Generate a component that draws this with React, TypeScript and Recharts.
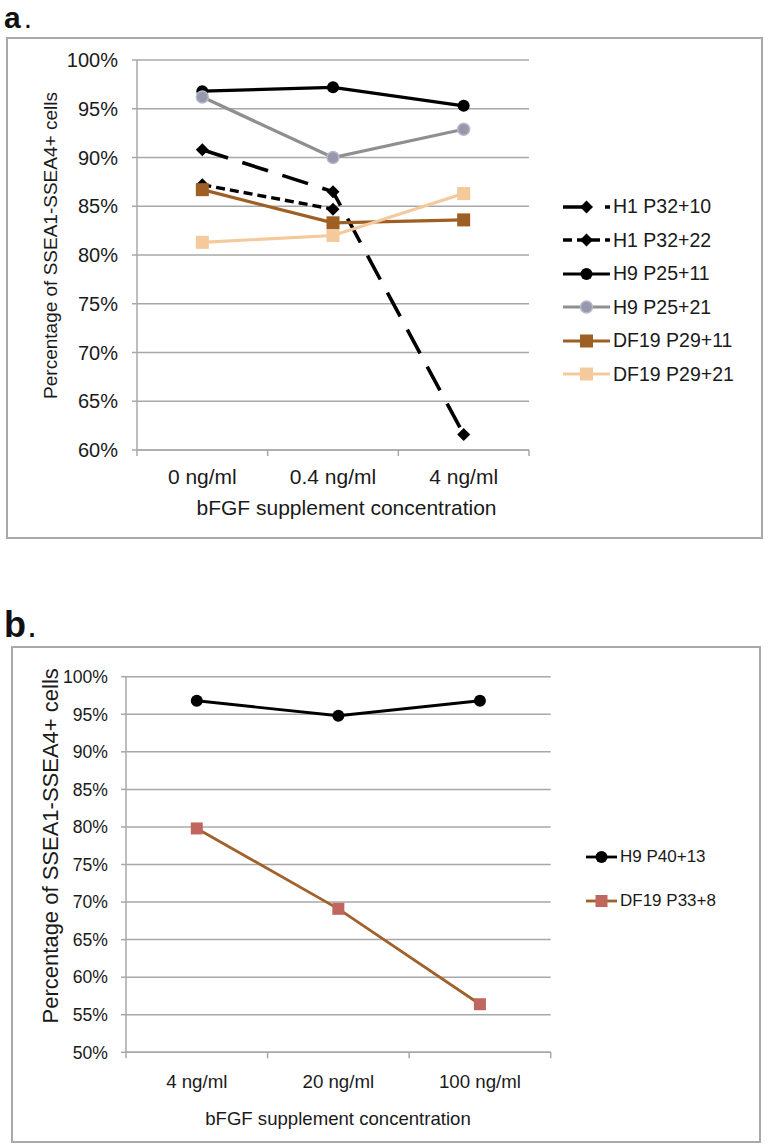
import React from 'react';
import { LineChart, Line, XAxis, YAxis, CartesianGrid, Legend } from 'recharts';

const FONT = '"Liberation Sans", Arial, Helvetica, sans-serif';
const TEXT = '#1a1a1a';
const GRID = '#a8a8a8';

// ---------- Panel a data ----------
const categoriesA = ['0 ng/ml', '0.4 ng/ml', '4 ng/ml'];
const seriesNamesA = ['H1 P32+10', 'H1 P32+22', 'H9 P25+11', 'H9 P25+21', 'DF19 P29+11', 'DF19 P29+21'];
const h1P32p10 = [90.8, 86.5, 61.6];
const h1P32p22 = [87.2, 84.7, null];
const h9P25p11 = [96.8, 97.2, 95.3];
const h9P25p21 = [96.2, 90.0, 92.9];
const df19P29p11 = [86.7, 83.3, 83.6];
const df19P29p21 = [81.3, 82.0, 86.3];
const yTicksA = [60, 65, 70, 75, 80, 85, 90, 95, 100];

// ---------- Panel b data ----------
const categoriesB = ['4 ng/ml', '20 ng/ml', '100 ng/ml'];
const seriesNamesB = ['H9 P40+13', 'DF19 P33+8'];
const h9P40p13 = [96.8, 94.8, 96.8];
const df19P33p8 = [79.8, 69.1, 56.4];
const yTicksB = [50, 55, 60, 65, 70, 75, 80, 85, 90, 95, 100];

const axisTitle = 'bFGF supplement concentration';
const yTitle = 'Percentage of SSEA1-SSEA4+ cells';

type MarkerKind = 'diamond' | 'circle' | 'square';
interface SeriesStyle {
  color: string;
  width: number;
  dash?: string;
  marker: MarkerKind;
  fill: string;
  stroke?: string;
  size: number;
}

const stylesA: SeriesStyle[] = [
  { color: '#000000', width: 3.6, dash: '27 15', marker: 'diamond', fill: '#000000', size: 6.5 },
  { color: '#000000', width: 3.4, dash: '9 5', marker: 'diamond', fill: '#000000', size: 6.5 },
  { color: '#000000', width: 3.2, marker: 'circle', fill: '#000000', size: 6 },
  { color: '#8f8f8f', width: 3.2, marker: 'circle', fill: '#9898ad', stroke: '#b9b9cc', size: 6 },
  { color: '#9e5f24', width: 3.2, marker: 'square', fill: '#9e5f24', size: 6.5 },
  { color: '#f4c99c', width: 3.2, marker: 'square', fill: '#f4c99c', size: 6.5 },
];

const stylesB: SeriesStyle[] = [
  { color: '#000000', width: 2.8, marker: 'circle', fill: '#000000', size: 6 },
  { color: '#a0612a', width: 2.8, marker: 'square', fill: '#c1665e', size: 6 },
];

const valuesA = [h1P32p10, h1P32p22, h9P25p11, h9P25p21, df19P29p11, df19P29p21];
const valuesB = [h9P40p13, df19P33p8];

const buildRows = (cats: string[], values: (number | null)[][]) =>
  cats.map((c, i) => {
    const row: Record<string, any> = { pos: i + 0.5, category: c };
    values.forEach((vals, s) => {
      row['s' + s] = vals[i];
    });
    return row;
  });

const dataA = buildRows(categoriesA, valuesA);
const dataB = buildRows(categoriesB, valuesB);

const xTicksFor = (n: number) => Array.from({ length: 2 * n + 1 }, (_, k) => k / 2);

function drawMarker(st: SeriesStyle, cx: number, cy: number) {
  const s = st.size;
  if (st.marker === 'diamond') {
    return (
      <polygon
        points={`${cx},${cy - s} ${cx + s},${cy} ${cx},${cy + s} ${cx - s},${cy}`}
        fill={st.fill}
      />
    );
  }
  if (st.marker === 'square') {
    return <rect x={cx - s} y={cy - s} width={2 * s} height={2 * s} fill={st.fill} />;
  }
  return (
    <circle
      cx={cx}
      cy={cy}
      r={s}
      fill={st.fill}
      stroke={st.stroke || 'none'}
      strokeWidth={st.stroke ? 1.5 : 0}
    />
  );
}

const makeDot = (st: SeriesStyle) => (props: any) => {
  const { cx, cy, index, value } = props;
  if (cx == null || cy == null || value == null || Number.isNaN(cy)) return <g key={`d${index}`} />;
  return <g key={`d${index}`}>{drawMarker(st, cx, cy)}</g>;
};

const makeXTick = (cats: string[], fs: number, off: number) => (props: any) => {
  const { x, y, payload } = props;
  const v = payload?.value as number;
  if (Number.isInteger(v)) {
    return <line x1={x} x2={x} y1={y} y2={y + 6} stroke={GRID} strokeWidth={1.5} />;
  }
  return (
    <text x={x} y={y + off} dy="0.71em" textAnchor="middle" fontSize={fs} fontFamily={FONT} fill={TEXT}>
      {cats[Math.floor(v)]}
    </text>
  );
};

const makeLegend = (names: string[], styles: SeriesStyle[], iconW: number, rowH: number, fs: number) => () => (
  <div style={{ fontFamily: FONT }}>
    {names.map((n, i) => {
      const st = styles[i];
      return (
        <div key={n} style={{ display: 'flex', alignItems: 'center', height: rowH }}>
          <svg width={iconW} height={20} style={{ display: 'block', overflow: 'visible' }}>
            <line
              x1={0}
              x2={iconW}
              y1={10}
              y2={10}
              stroke={st.color}
              strokeWidth={st.width}
              strokeDasharray={st.dash}
            />
            {drawMarker(st, iconW / 2, 10)}
          </svg>
          <span style={{ marginLeft: 3, fontSize: fs, color: TEXT, whiteSpace: 'nowrap', lineHeight: 1 }}>{n}</span>
        </div>
      );
    })}
  </div>
);

const rotTitle = (text: string, x: number, y: number, fs: number) => ({
  content: () => (
    <text
      x={x}
      y={y}
      transform={`rotate(-90 ${x} ${y})`}
      textAnchor="middle"
      fontSize={fs}
      fontFamily={FONT}
      fill={TEXT}
    >
      {text}
    </text>
  ),
});

const flatTitle = (text: string, x: number, y: number, fs: number) => ({
  content: () => (
    <text x={x} y={y} textAnchor="middle" fontSize={fs} fontFamily={FONT} fill={TEXT}>
      {text}
    </text>
  ),
});

function PanelA() {
  return (
    <div style={{ position: 'absolute', left: 0, top: 0 }}>
      <LineChart width={768} height={540} data={dataA} margin={{ top: 60, right: 239, bottom: 0, left: 57 }}>
        <CartesianGrid vertical={false} stroke={GRID} strokeWidth={1.5} />
        <XAxis
          dataKey="pos"
          type="number"
          domain={[0, categoriesA.length]}
          ticks={xTicksFor(categoriesA.length)}
          interval={0}
          height={90}
          tickSize={0}
          tickMargin={0}
          tickLine={false}
          axisLine={{ stroke: GRID, strokeWidth: 1.5 }}
          tick={makeXTick(categoriesA, 21, 19.5)}
          label={flatTitle(axisTitle, 346.5, 515, 21)}
        />
        <YAxis
          type="number"
          domain={[60, 100]}
          ticks={yTicksA}
          interval={0}
          width={80}
          tickSize={5}
          tickMargin={14}
          tickFormatter={(v: number) => `${v}%`}
          tick={{ fontSize: 20, fill: TEXT, fontFamily: FONT }}
          tickLine={{ stroke: GRID, strokeWidth: 1.5 }}
          axisLine={{ stroke: GRID, strokeWidth: 1.5 }}
          label={rotTitle(yTitle, 56.5, 245.5, 19)}
        />
        {seriesNamesA.map((name, i) => (
          <Line
            key={name}
            name={name}
            type="linear"
            dataKey={'s' + i}
            stroke={stylesA[i].color}
            strokeWidth={stylesA[i].width}
            strokeDasharray={stylesA[i].dash}
            dot={makeDot(stylesA[i])}
            activeDot={false}
            connectNulls={false}
            isAnimationActive={false}
          />
        ))}
        <Legend
          layout="horizontal"
          align="center"
          verticalAlign="middle"
          wrapperStyle={{ left: 563, top: 190, width: 200, margin: 0 }}
          content={makeLegend(seriesNamesA, stylesA, 47, 33.5, 19.5)}
        />
      </LineChart>
    </div>
  );
}

function PanelB() {
  return (
    <div style={{ position: 'absolute', left: 0, top: 580 }}>
      <LineChart width={768} height={567} data={dataB} margin={{ top: 96.7, right: 217.3, bottom: 0, left: 46 }}>
        <CartesianGrid vertical={false} stroke={GRID} strokeWidth={1.5} />
        <XAxis
          dataKey="pos"
          type="number"
          domain={[0, categoriesB.length]}
          ticks={xTicksFor(categoriesB.length)}
          interval={0}
          height={94.7}
          tickSize={0}
          tickMargin={0}
          tickLine={false}
          axisLine={{ stroke: GRID, strokeWidth: 1.5 }}
          tick={makeXTick(categoriesB, 18.7, 22.7)}
          label={flatTitle(axisTitle, 338, 545, 18.6)}
        />
        <YAxis
          type="number"
          domain={[50, 100]}
          ticks={yTicksB}
          interval={0}
          width={80}
          tickSize={5}
          tickMargin={13}
          tickFormatter={(v: number) => `${v}%`}
          tick={{ fontSize: 17.6, fill: TEXT, fontFamily: FONT }}
          tickLine={{ stroke: GRID, strokeWidth: 1.5 }}
          axisLine={{ stroke: GRID, strokeWidth: 1.5 }}
          label={rotTitle(yTitle, 58, 265.8, 22)}
        />
        {seriesNamesB.map((name, i) => (
          <Line
            key={name}
            name={name}
            type="linear"
            dataKey={'s' + i}
            stroke={stylesB[i].color}
            strokeWidth={stylesB[i].width}
            dot={makeDot(stylesB[i])}
            activeDot={false}
            isAnimationActive={false}
          />
        ))}
        <Legend
          layout="horizontal"
          align="center"
          verticalAlign="middle"
          wrapperStyle={{ left: 586, top: 255.2, width: 170, margin: 0 }}
          content={makeLegend(seriesNamesB, stylesB, 31, 43.6, 17)}
        />
      </LineChart>
    </div>
  );
}

export default function App() {
  const box = (left: number, top: number, w: number, h: number) => (
    <div
      style={{
        position: 'absolute',
        left,
        top,
        width: w,
        height: h,
        border: '2px solid #a9a9a9',
        boxSizing: 'border-box',
      }}
    />
  );
  return (
    <div style={{ position: 'absolute', left: 0, top: 0, width: 768, height: 1147, background: '#ffffff', overflow: 'hidden' }}>
      {box(6, 37, 757, 502)}
      {box(11, 646, 750, 497)}
      <svg width={768} height={1147} style={{ position: 'absolute', left: 0, top: 0 }}>
        <text x={4} y={27.5} fontSize={30} fontWeight="bold" fontFamily={FONT} fill="#111">
          a<tspan fontWeight="normal" dx={3}>.</tspan>
        </text>
        <text x={4} y={637} fontSize={36} fontWeight="bold" fontFamily={FONT} fill="#111">
          b<tspan fontWeight="normal" dx={1}>.</tspan>
        </text>
      </svg>
      <PanelA />
      <PanelB />
    </div>
  );
}
